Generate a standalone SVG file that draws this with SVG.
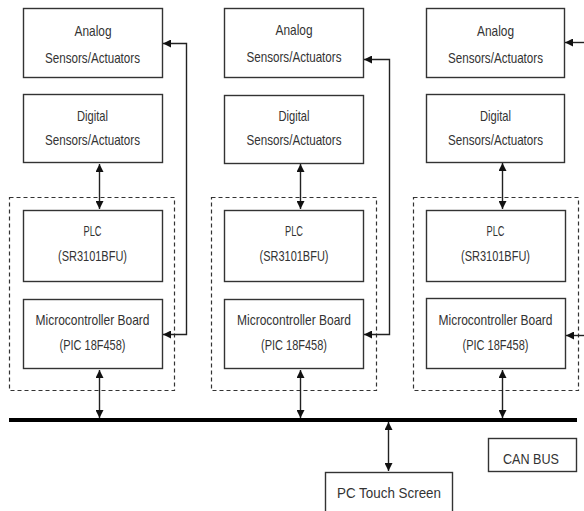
<svg xmlns="http://www.w3.org/2000/svg" width="584" height="511" viewBox="0 0 584 511">
<defs>
<style>
.box{fill:#fff;stroke:#333;stroke-width:1.4}
.grp{fill:none;stroke:#333;stroke-width:1.2;stroke-dasharray:4 3}
.ln{fill:none;stroke:#222;stroke-width:1.4}
.bus{fill:none;stroke:#000;stroke-width:4}
text{font-family:"Liberation Sans",Arial,sans-serif;font-size:15px;fill:#333;text-anchor:middle}
</style>
<marker id="ah" viewBox="0 0 10 10" refX="10" refY="5" markerWidth="8" markerHeight="8" markerUnits="userSpaceOnUse" orient="auto-start-reverse">
<path d="M0,0 L10,5 L0,10 z" fill="#111"/>
</marker>
</defs>
<rect width="584" height="511" fill="#fff"/>

<g id="group1"><rect class="grp" x="9.5" y="197.5" width="165" height="193"/></g>
<g id="group2"><rect class="grp" x="211.5" y="197.5" width="165" height="193"/></g>
<g id="group3"><rect class="grp" x="413.5" y="197.5" width="165" height="193"/></g>

<g id="analog1"><rect class="box" x="23.5" y="8.5" width="139" height="69"/>
<text x="93" y="36" textLength="37" lengthAdjust="spacingAndGlyphs">Analog</text>
<text x="92.5" y="63" textLength="95" lengthAdjust="spacingAndGlyphs">Sensors/Actuators</text></g>
<g id="digital1"><rect class="box" x="23.5" y="94.5" width="139" height="68"/>
<text x="92.5" y="121" textLength="31" lengthAdjust="spacingAndGlyphs">Digital</text>
<text x="92.5" y="145" textLength="95" lengthAdjust="spacingAndGlyphs">Sensors/Actuators</text></g>
<g id="plc1"><rect class="box" x="23.5" y="210.5" width="139" height="71"/>
<text x="92.5" y="236" textLength="18" lengthAdjust="spacingAndGlyphs">PLC</text>
<text x="92.5" y="261" textLength="69" lengthAdjust="spacingAndGlyphs">(SR3101BFU)</text></g>
<g id="micro1"><rect class="box" x="23.5" y="299.5" width="139" height="69"/>
<text x="92.5" y="325" textLength="114" lengthAdjust="spacingAndGlyphs">Microcontroller Board</text>
<text x="92.5" y="350" textLength="66" lengthAdjust="spacingAndGlyphs">(PIC 18F458)</text></g>

<g id="analog2"><rect class="box" x="224.5" y="8.5" width="139" height="69"/>
<text x="294" y="35" textLength="37" lengthAdjust="spacingAndGlyphs">Analog</text>
<text x="294" y="62" textLength="95" lengthAdjust="spacingAndGlyphs">Sensors/Actuators</text></g>
<g id="digital2"><rect class="box" x="224.5" y="95.5" width="139" height="68"/>
<text x="294" y="121" textLength="31" lengthAdjust="spacingAndGlyphs">Digital</text>
<text x="294" y="145" textLength="95" lengthAdjust="spacingAndGlyphs">Sensors/Actuators</text></g>
<g id="plc2"><rect class="box" x="224.5" y="210.5" width="139" height="71"/>
<text x="294" y="236" textLength="18" lengthAdjust="spacingAndGlyphs">PLC</text>
<text x="294" y="261" textLength="69" lengthAdjust="spacingAndGlyphs">(SR3101BFU)</text></g>
<g id="micro2"><rect class="box" x="224.5" y="299.5" width="139" height="69"/>
<text x="294" y="325" textLength="114" lengthAdjust="spacingAndGlyphs">Microcontroller Board</text>
<text x="294" y="350" textLength="66" lengthAdjust="spacingAndGlyphs">(PIC 18F458)</text></g>

<g id="analog3"><rect class="box" x="426.5" y="8.5" width="138" height="69"/>
<text x="495.5" y="36" textLength="37" lengthAdjust="spacingAndGlyphs">Analog</text>
<text x="495.5" y="63" textLength="95" lengthAdjust="spacingAndGlyphs">Sensors/Actuators</text></g>
<g id="digital3"><rect class="box" x="426.5" y="94.5" width="138" height="68"/>
<text x="495.5" y="121" textLength="31" lengthAdjust="spacingAndGlyphs">Digital</text>
<text x="495.5" y="145" textLength="95" lengthAdjust="spacingAndGlyphs">Sensors/Actuators</text></g>
<g id="plc3"><rect class="box" x="426.5" y="210.5" width="139" height="71"/>
<text x="495.5" y="236" textLength="18" lengthAdjust="spacingAndGlyphs">PLC</text>
<text x="495.5" y="261" textLength="69" lengthAdjust="spacingAndGlyphs">(SR3101BFU)</text></g>
<g id="micro3"><rect class="box" x="426.5" y="298.5" width="139" height="70"/>
<text x="495.5" y="325" textLength="114" lengthAdjust="spacingAndGlyphs">Microcontroller Board</text>
<text x="495.5" y="350" textLength="66" lengthAdjust="spacingAndGlyphs">(PIC 18F458)</text></g>

<g id="canbus"><rect class="box" x="488.5" y="438.5" width="88" height="33"/>
<text x="531" y="464" textLength="56" lengthAdjust="spacingAndGlyphs">CAN BUS</text></g>
<g id="pc"><rect class="box" x="325.5" y="472.5" width="127" height="45"/>
<text x="389" y="498" textLength="104" lengthAdjust="spacingAndGlyphs">PC Touch Screen</text></g>

<g id="connectors">
<line class="bus" x1="9" y1="420" x2="577" y2="420"/>
<path class="ln" d="M99.5,164 V209" marker-start="url(#ah)" marker-end="url(#ah)"/>
<path class="ln" d="M300.5,164 V209" marker-start="url(#ah)" marker-end="url(#ah)"/>
<path class="ln" d="M502.5,163 V209" marker-start="url(#ah)" marker-end="url(#ah)"/>
<path class="ln" d="M99.5,370 V418" marker-start="url(#ah)" marker-end="url(#ah)"/>
<path class="ln" d="M300.5,370 V418" marker-start="url(#ah)" marker-end="url(#ah)"/>
<path class="ln" d="M502.5,370 V418" marker-start="url(#ah)" marker-end="url(#ah)"/>
<path class="ln" d="M388.5,422 V471" marker-start="url(#ah)" marker-end="url(#ah)"/>
<path class="ln" d="M163,43.5 H186.5 V334.5 H163" marker-start="url(#ah)" marker-end="url(#ah)"/>
<path class="ln" d="M364,59.5 H389.5 V334.5 H364" marker-start="url(#ah)" marker-end="url(#ah)"/>
<path class="ln" d="M590,42.5 H565" marker-end="url(#ah)"/>
<path class="ln" d="M590,335.5 H566" marker-end="url(#ah)"/>
</g>
</svg>
